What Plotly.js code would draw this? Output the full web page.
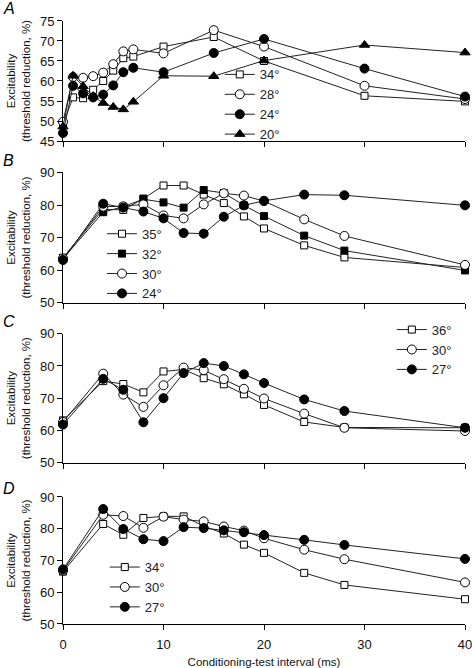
<!DOCTYPE html>
<html>
<head>
<meta charset="utf-8">
<script src="https://cdn.plot.ly/plotly-3.0.1.min.js"></script>
<style>html,body{margin:0;padding:0;background:#fff;}#chart{width:472px;height:668px;}</style>
</head>
<body>
<div id="chart"></div>
<script>
// Conditioning-test intervals (ms)
var xA = [0, 1, 2, 3, 4, 5, 6, 7, 10, 15, 20, 30, 40];
var xBCD = [0, 4, 6, 8, 10, 12, 14, 16, 18, 20, 24, 28, 40];

// Panel A
var A_names = ['34°', '28°', '24°', '20°'];
var A_34 = [49.2, 55.9, 55.7, 57.8, 60.0, 62.6, 65.7, 66.1, 68.6, 71.0, 65.0, 56.3, 54.9];
var A_28 = [49.8, 61.0, 60.8, 61.2, 62.1, 64.2, 67.4, 67.9, 66.9, 72.7, 68.6, 58.8, 55.5];
var A_24 = [47.0, 58.8, 56.9, 55.9, 56.6, 58.9, 62.2, 63.3, 62.2, 67.0, 70.5, 63.1, 56.1];
var A_20 = [48.6, 61.3, 58.7, 56.2, 54.5, 53.5, 52.9, 54.8, 61.3, 61.2, 65.1, 69.0, 67.1];

// Panel B
var B_names = ['35°', '32°', '30°', '24°'];
var B_35 = [63.8, 78.7, 78.5, 82.0, 86.0, 86.0, 83.2, 80.6, 76.5, 72.8, 67.6, 63.9, 60.8];
var B_32 = [63.5, 77.8, 79.5, 81.8, 80.8, 79.2, 84.6, 83.7, 79.9, 76.6, 70.6, 66.0, 59.9];
var B_30 = [63.6, 79.5, 79.6, 80.2, 76.8, 75.9, 80.2, 83.6, 82.9, 81.2, 75.6, 70.5, 61.6];
var B_24 = [63.1, 80.4, 79.2, 78.0, 75.9, 71.4, 71.2, 76.4, 79.9, 81.3, 83.2, 83.0, 79.9];

// Panel C
var C_names = ['36°', '30°', '27°'];
var C_36 = [63.1, 75.3, 74.4, 71.8, 78.3, 78.9, 76.2, 74.3, 71.2, 67.9, 62.6, 60.9, 60.8];
var C_30 = [62.6, 77.6, 71.1, 67.3, 74.0, 79.5, 78.7, 75.9, 72.9, 69.9, 65.2, 60.8, 59.8];
var C_27 = [61.8, 76.0, 72.6, 62.5, 70.0, 77.8, 80.9, 80.0, 77.4, 74.7, 69.6, 66.0, 60.8];

// Panel D
var D_names = ['34°', '30°', '27°'];
var D_34 = [66.5, 81.5, 78.1, 83.4, 83.9, 83.9, 80.8, 78.5, 75.0, 72.4, 66.1, 62.3, 57.8];
var D_30 = [66.8, 84.4, 84.0, 80.3, 83.8, 82.9, 82.3, 80.7, 79.4, 77.0, 73.4, 70.4, 63.1];
var D_27 = [67.2, 86.2, 79.9, 76.7, 76.1, 80.5, 80.2, 79.5, 78.9, 78.0, 76.5, 74.9, 70.5];

var panelLetters = ['A', 'B', 'C', 'D'];
var xTicks = [0, 10, 20, 30, 40];
var yTitle = 'Excitability<br>(threshold reduction, %)';
var xTitle = 'Conditioning-test interval (ms)';

var FONT = 'Liberation Sans, Arial, Helvetica, sans-serif';

var styles = {
  openSquare:   {symbol: 'square', size: 7, color: '#ffffff'},
  filledSquare: {symbol: 'square', size: 7, color: '#000000'},
  openCircle:   {symbol: 'circle', size: 9, color: '#ffffff'},
  filledCircle: {symbol: 'circle', size: 9, color: '#000000'},
  triangle:     {symbol: 'triangle-up', size: 9, color: '#000000'}
};

function tr(x, y, name, st, ax, lg) {
  return {
    x: x, y: y, name: name, type: 'scatter', mode: 'lines+markers',
    xaxis: 'x' + ax, yaxis: 'y' + ax, legend: lg, cliponaxis: false,
    line: {color: '#222222', width: 1},
    marker: {symbol: st.symbol, size: st.size, color: st.color, line: {color: '#000000', width: 1}}
  };
}

var data = [
  tr(xA, A_34, A_names[0], styles.openSquare, '', 'legend'),
  tr(xA, A_28, A_names[1], styles.openCircle, '', 'legend'),
  tr(xA, A_24, A_names[2], styles.filledCircle, '', 'legend'),
  tr(xA, A_20, A_names[3], styles.triangle, '', 'legend'),
  tr(xBCD, B_35, B_names[0], styles.openSquare, '2', 'legend2'),
  tr(xBCD, B_32, B_names[1], styles.filledSquare, '2', 'legend2'),
  tr(xBCD, B_30, B_names[2], styles.openCircle, '2', 'legend2'),
  tr(xBCD, B_24, B_names[3], styles.filledCircle, '2', 'legend2'),
  tr(xBCD, C_36, C_names[0], styles.openSquare, '3', 'legend3'),
  tr(xBCD, C_30, C_names[1], styles.openCircle, '3', 'legend3'),
  tr(xBCD, C_27, C_names[2], styles.filledCircle, '3', 'legend3'),
  tr(xBCD, D_34, D_names[0], styles.openSquare, '4', 'legend4'),
  tr(xBCD, D_30, D_names[1], styles.openCircle, '4', 'legend4'),
  tr(xBCD, D_27, D_names[2], styles.filledCircle, '4', 'legend4')
];

function xax(anchor, showLabels) {
  return {
    domain: [0, 1], anchor: anchor, range: [0, 40], tickvals: xTicks,
    showticklabels: showLabels, ticks: 'outside', ticklen: 5, tickcolor: '#000',
    ticklabeloverflow: 'allow', ticklabelstandoff: 3,
    showline: true, linecolor: '#000', linewidth: 1, showgrid: false, zeroline: false,
    tickfont: {family: FONT, size: 13, color: '#111'}
  };
}
function yax(anchor, dom, rng, dt) {
  return {
    domain: dom, anchor: anchor, range: rng, dtick: dt, tick0: rng[0],
    ticks: 'outside', ticklen: 5, tickcolor: '#000',
    showline: true, linecolor: '#000', linewidth: 1, showgrid: false, zeroline: false,
    tickfont: {family: FONT, size: 13, color: '#111'},
    title: {text: yTitle, font: {family: FONT, size: 11.5, color: '#111'}, standoff: 6}
  };
}

var xa4 = xax('y4', true);
xa4.title = {text: xTitle, font: {family: FONT, size: 11.5, color: '#111'}, standoff: 9};

function legendAt(x, y) {
  return {x: x, y: y, xanchor: 'left', yanchor: 'top', bgcolor: 'rgba(0,0,0,0)',
          font: {family: FONT, size: 13, color: '#222'}, traceorder: 'normal'};
}

var letterY = [0.988, 0.759, 0.518, 0.268];
var annotations = panelLetters.map(function (t, i) {
  return {text: '<i>' + t + '</i>', xref: 'paper', yref: 'paper', x: -0.153, y: letterY[i],
          xanchor: 'left', yanchor: 'middle', showarrow: false,
          font: {family: FONT, size: 16, color: '#000'}};
});

var layout = {
  width: 472, height: 668,
  margin: {l: 63, r: 7, t: 0, b: 0},
  paper_bgcolor: '#fff', plot_bgcolor: '#fff',
  showlegend: true,
  xaxis: xax('y', false),
  xaxis2: xax('y2', false),
  xaxis3: xax('y3', false),
  xaxis4: xa4,
  yaxis: yax('x', [0.7889, 0.9686], [45, 75], 5),
  yaxis2: yax('x2', [0.5469, 0.7418], [50, 90], 10),
  yaxis3: yax('x3', [0.3076, 0.5003], [50, 90], 10),
  yaxis4: yax('x4', [0.0659, 0.2560], [50, 90], 10),
  legend: legendAt(0.39, 0.911),
  legend2: legendAt(0.097, 0.6725),
  legend3: legendAt(0.818, 0.529),
  legend4: legendAt(0.104, 0.1735),
  annotations: annotations
};

Plotly.newPlot('chart', data, layout, {staticPlot: true, displayModeBar: false});
</script>
</body>
</html>
